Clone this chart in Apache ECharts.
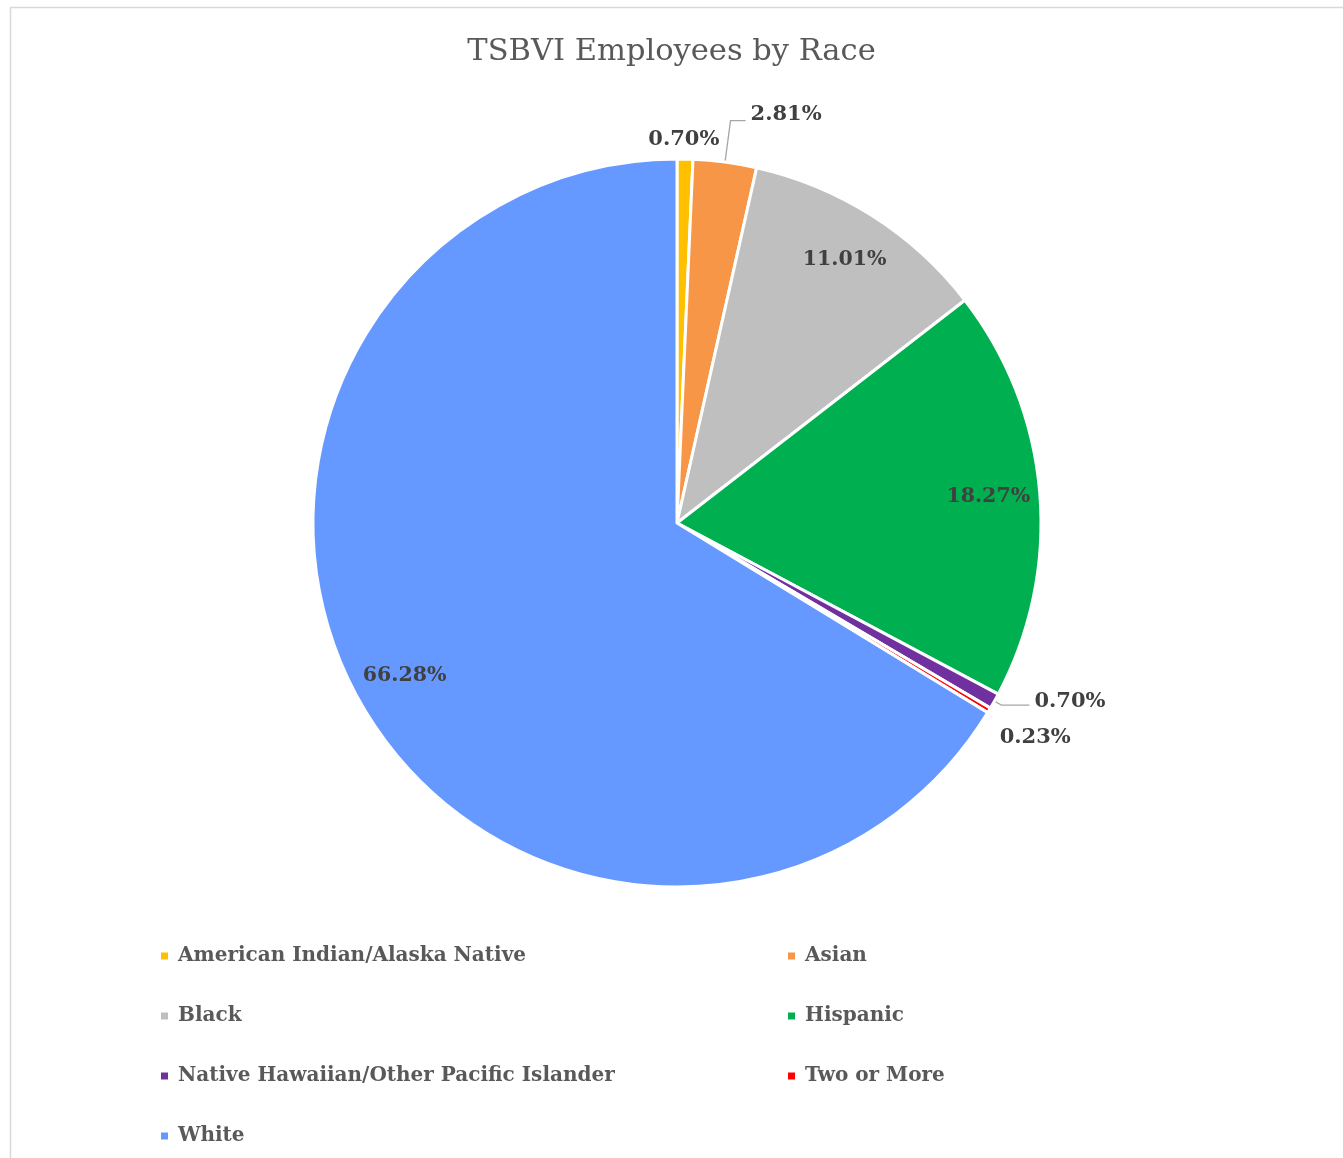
<!DOCTYPE html>
<html>
<head>
<meta charset="utf-8">
<style>
  html, body { margin: 0; padding: 0; background: #fff; }
  #chart { width: 1343px; height: 1158px; }
</style>
<script src="https://cdn.jsdelivr.net/npm/echarts@6/dist/echarts.min.js"></script>
</head>
<body>
<div id="chart"></div>
<script>
const categories = [
  'American Indian/Alaska Native',
  'Asian',
  'Black',
  'Hispanic',
  'Native Hawaiian/Other Pacific Islander',
  'Two or More',
  'White'
];
const values = [0.70, 2.81, 11.01, 18.27, 0.70, 0.23, 66.28];
const colors = ['#FFC000', '#F79646', '#BFBFBF', '#00B050', '#7030A0', '#FF0000', '#6699FF'];
const leftLegend = ['American Indian/Alaska Native', 'Black', 'Native Hawaiian/Other Pacific Islander', 'White'];
const rightLegend = ['Asian', 'Hispanic', 'Two or More'];
const titleText = 'TSBVI Employees by Race';

const SERIF = '"DejaVu Serif", "Liberation Serif", serif';
const CENTER = [677, 523];
const R = 364;

// outside-label styling per slice index (small slices only)
const outsideStyle = {
  0: { show: false, length: 15, length2: 0, dx: -42, dy: -5 },
  1: { show: true, length: 42, length2: 15, dx: 0, dy: -6 },
  4: { show: true, length: 8, length2: 28, dx: 0, dy: -4 },
  5: { show: false, length: 10, length2: 0, dx: -3, dy: 22 }
};

const mainData = categories.map((c, i) => {
  const o = outsideStyle[i];
  return {
    name: c,
    value: values[i],
    itemStyle: { color: colors[i] },
    label: { show: !!o },
    labelLine: o ? { show: o.show, length: o.length, length2: o.length2 } : { show: false }
  };
});

const overlayData = categories.map((c, i) => ({
  name: c,
  value: values[i],
  label: { show: !outsideStyle[i] }
}));

const legendCommon = {
  orient: 'vertical',
  top: 941,
  itemWidth: 9,
  itemHeight: 9,
  itemGap: 40,
  icon: 'rect',
  textStyle: { fontFamily: SERIF, fontWeight: 'bold', fontSize: 20, color: '#595959', padding: [0, 0, 0, 4] }
};

const chart = echarts.init(document.getElementById('chart'), null, { renderer: 'canvas' });
chart.setOption({
  backgroundColor: '#ffffff',
  animation: false,
  color: colors,
  title: {
    text: titleText,
    left: 'center',
    top: 32,
    textStyle: { fontFamily: SERIF, fontWeight: 'normal', fontSize: 30.5, color: '#595959' }
  },
  graphic: [{
    type: 'rect',
    left: 8, top: 5,
    shape: { width: 1400, height: 1200 },
    style: { fill: 'none', stroke: '#d9d9d9', lineWidth: 1.5 },
    silent: true
  }],
  legend: [
    Object.assign({}, legendCommon, { left: 154, data: leftLegend }),
    Object.assign({}, legendCommon, { left: 781, data: rightLegend })
  ],
  series: [{
    type: 'pie',
    center: CENTER,
    radius: [0, R],
    startAngle: 90,
    clockwise: true,
    avoidLabelOverlap: false,
    data: mainData,
    itemStyle: { borderColor: '#ffffff', borderWidth: 3 },
    label: {
      position: 'outside',
      formatter: p => p.value.toFixed(2) + '%',
      fontFamily: SERIF, fontWeight: 'bold', fontSize: 21, color: '#404040'
    },
    labelLine: { lineStyle: { color: '#a6a6a6', width: 1.3 } },
    labelLayout: params => {
      const o = outsideStyle[params.dataIndex];
      return o ? { dx: o.dx, dy: o.dy } : {};
    },
    emphasis: { disabled: true }
  }, {
    type: 'pie',
    center: CENTER,
    radius: [R * 0.70, R],
    startAngle: 90,
    clockwise: true,
    silent: true,
    data: overlayData,
    itemStyle: { color: 'rgba(0,0,0,0)', borderWidth: 0 },
    label: {
      position: 'inside',
      formatter: p => p.value.toFixed(2) + '%',
      fontFamily: SERIF, fontWeight: 'bold', fontSize: 20.5, color: '#404040'
    },
    labelLine: { show: false },
    emphasis: { disabled: true }
  }]
});
</script>
</body>
</html>
